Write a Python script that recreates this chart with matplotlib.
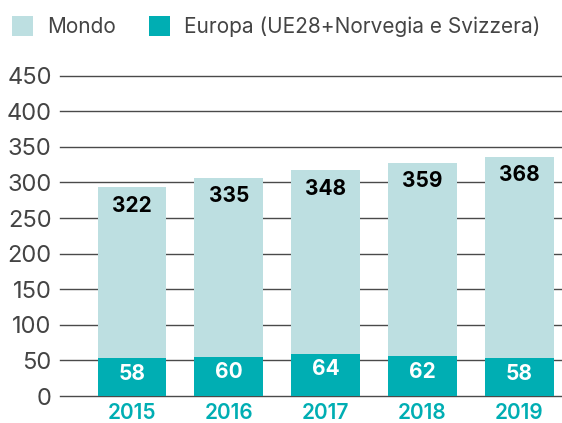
import numpy as np
import matplotlib
matplotlib.use('Agg')
import matplotlib.pyplot as plt
from matplotlib.patches import Patch

# ---------------------
# data (bar heights as drawn in the picture, labels as printed)
# ---------------------
years = ['2015', '2016', '2017', '2018', '2019']
mondo_height = [293, 306, 317, 327, 336]
europa_height = [53, 55, 59, 56, 53]
mondo_labels = ['322', '335', '348', '359', '368']
europa_labels = ['58', '60', '64', '62', '58']
y_ticks = [0, 50, 100, 150, 200, 250, 300, 350, 400, 450]

MONDO_COLOR = '#bddfe1'
EUROPA_COLOR = '#00aeb3'
GRID_COLOR = '#4a4a4a'
TEXT_GRAY = '#444444'

plt.rcParams['font.family'] = ['Inter', 'DejaVu Sans']

fig = plt.figure(figsize=(5.62, 4.23), dpi=100)
ax = fig.add_axes([60 / 562, 1 - 396 / 423, 1 - 60 / 562, (396 - 75.6) / 423])

x = np.arange(len(years))
width = 0.71

for t in y_ticks:
    ax.axhline(t, color=GRID_COLOR, linewidth=1.0, zorder=1, clip_on=False)

ax.bar(x, mondo_height, width=width, color=MONDO_COLOR, zorder=2)
ax.bar(x, europa_height, width=width, color=EUROPA_COLOR, zorder=3)

for xi, h, lab in zip(x, mondo_height, mondo_labels):
    ax.annotate(lab, (xi, h), xytext=(0, -11.7), textcoords='offset points',
                ha='center', va='center_baseline', fontsize=15, fontweight='bold',
                color='black', zorder=4)
for xi, h, lab in zip(x, europa_height, europa_labels):
    ax.annotate(lab, (xi, h), xytext=(0, -9.7), textcoords='offset points',
                ha='center', va='center_baseline', fontsize=15, fontweight='bold',
                color='white', zorder=4)

ax.set_xlim(-0.743, 4.44)
ax.set_ylim(0, 450)
ax.set_yticks(y_ticks)
ax.set_yticklabels([str(t) for t in y_ticks], fontsize=17, color=TEXT_GRAY)
ax.set_xticks(x)
ax.set_xticklabels(years, fontsize=15, color=EUROPA_COLOR, fontweight='semibold')
ax.tick_params(axis='both', length=0)
ax.tick_params(axis='y', pad=6)
ax.tick_params(axis='x', pad=5)
for s in ax.spines.values():
    s.set_visible(False)

handles = [Patch(facecolor=MONDO_COLOR, edgecolor='none', label='Mondo'),
           Patch(facecolor=EUROPA_COLOR, edgecolor='none',
                 label='Europa (UE28+Norvegia e Svizzera)')]
fig.legend(handles=handles, loc='center left',
           bbox_to_anchor=(12 / 562, 1 - 26.5 / 423),
           ncol=2, frameon=False, fontsize=15, handlelength=1.0,
           handleheight=1.1, handletextpad=0.67, columnspacing=1.6,
           labelcolor=TEXT_GRAY, borderaxespad=0, borderpad=0)

fig.savefig('out.png', dpi=100)
